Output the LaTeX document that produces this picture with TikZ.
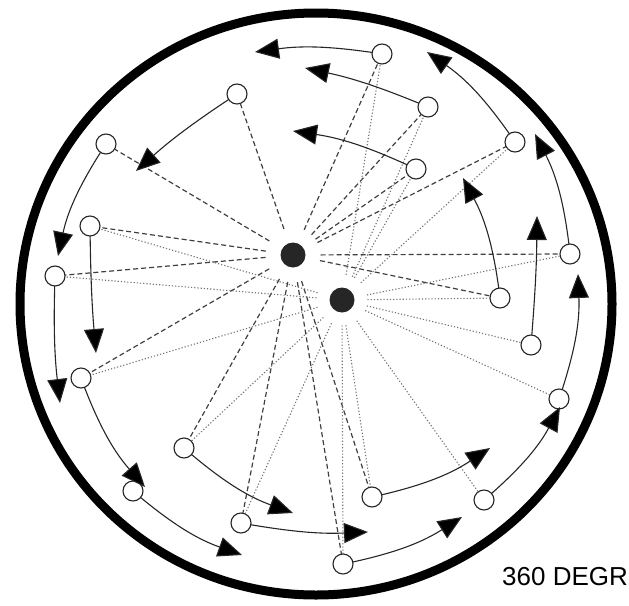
\documentclass[tikz,border=0pt]{standalone}
\usepackage{fontspec}
\newfontfamily\labfont{Liberation Sans}
\usetikzlibrary{arrows.meta}
\begin{document}
\begin{tikzpicture}[x=1pt,y=-1pt,
  nd/.style={circle,draw=black!85,line width=1.1pt,fill=white,minimum size=20pt,inner sep=0pt,outer sep=0pt},
  hub/.style={circle,fill=black!85,minimum size=25pt,inner sep=0pt},
  dsh/.style={draw=black!75,line width=1.2pt,dash pattern=on 5pt off 3pt},
  dtt/.style={draw=black!55,line width=1.1pt,dash pattern=on 1.2pt off 2pt},
  arr/.style={draw=black!85,line width=1.1pt,-{Triangle[length=24pt,width=20pt,fill=black]}},
  rim/.style={draw=black,line width=9pt}
]
\useasboundingbox (0,0) rectangle (629,605);
\draw[rim] (316,304) ellipse [x radius=296, y radius=291];

% hubs
\node[hub,outer sep=15pt] (h1) at (293,255) {};
\node[hub,outer sep=13pt] (h2) at (342,300) {};

% ring nodes
\node[nd] (A) at (237,94) {};
\node[nd] (B) at (106,144) {};
\node[nd] (C) at (90,226) {};
\node[nd] (D) at (55,276) {};
\node[nd] (E) at (382,54) {};
\node[nd] (F) at (428,107) {};
\node[nd] (G) at (416,169) {};
\node[nd] (H) at (515,142) {};
\node[nd] (I) at (570,254) {};
\node[nd] (J) at (500,298) {};
\node[nd] (K) at (81,378) {};
\node[nd] (L) at (184,448) {};
\node[nd] (M) at (133,491) {};
\node[nd] (N) at (241,523) {};
\node[nd] (O) at (531,345) {};
\node[nd] (P) at (559,399) {};
\node[nd] (Q) at (372,497) {};
\node[nd] (R) at (484,500) {};
\node[nd] (S) at (343,564) {};

% dashed spokes from first hub
\foreach \n in {A,B,C,D,E,F,G,H,I,J,K,L,N,Q,S}
  \draw[dsh] (h1) -- (\n);
% dotted spokes from second hub
\foreach \n in {C,D,E,F,G,H,I,J,K,L,N,O,P,Q,R,S}
  \draw[dtt] (h2) -- (\n);

% arrow tips
\coordinate (tE) at (255,52);
\coordinate (tF) at (305,68);
\coordinate (tG) at (293,131);
\coordinate (tA) at (136,171);
\coordinate (tB) at (58,256);
\coordinate (tC) at (96,353);
\coordinate (tD) at (60,403);
\coordinate (tK) at (145,487);
\coordinate (tM) at (242,555);
\coordinate (tL) at (293,513);
\coordinate (tN) at (368,532);
\coordinate (tS) at (462,517);
\coordinate (tQ) at (490,448);
\coordinate (tR) at (560,407);
\coordinate (tP) at (578,274);
\coordinate (tO) at (537,216);
\coordinate (tJ) at (463,178);
\coordinate (tI) at (535,134);
\coordinate (tH) at (427,52);

\draw[arr] (E) to[bend right=8] (tE);
\draw[arr] (F) to[bend right=5] (tF);
\draw[arr] (G) to[bend right=8] (tG);
\draw[arr] (A) to[bend right=4] (tA);
\draw[arr] (B) to[bend right=10] (tB);
\draw[arr] (C) to[bend right=2] (tC);
\draw[arr] (D) to[bend right=4] (tD);
\draw[arr] (K) to[bend right=10] (tK);
\draw[arr] (M) to[bend right=10] (tM);
\draw[arr] (L) to[bend right=10] (tL);
\draw[arr] (N) to[bend right=6] (tN);
\draw[arr] (S) to[bend right=10] (tS);
\draw[arr] (Q) to[bend right=10] (tQ);
\draw[arr] (R) to[bend right=10] (tR);
\draw[arr] (P) to[bend right=10] (tP);
\draw[arr] (O) to[bend right=2] (tO);
\draw[arr] (J) to[bend right=10] (tJ);
\draw[arr] (I) to[bend right=10] (tI);
\draw[arr] (H) to[bend right=10] (tH);

\node[anchor=base west,inner sep=0pt,font=\labfont\fontsize{26}{30}\selectfont] (lbl) at (502,585) {360 DEGR};
\end{tikzpicture}
\end{document}
